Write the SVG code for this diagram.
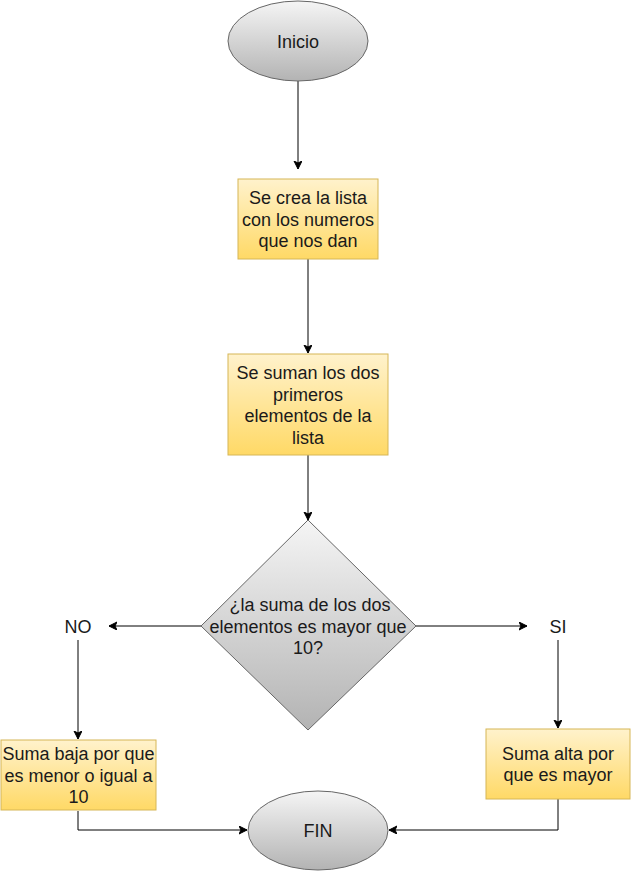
<svg xmlns="http://www.w3.org/2000/svg" width="631" height="871" viewBox="0 0 631 871">
  <defs>
    <linearGradient id="gGray" x1="0" y1="0" x2="0" y2="1">
      <stop offset="0" stop-color="#f5f5f5"/>
      <stop offset="1" stop-color="#b3b3b3"/>
    </linearGradient>
    <linearGradient id="gYel" x1="0" y1="0" x2="0" y2="1">
      <stop offset="0" stop-color="#fff2cc"/>
      <stop offset="1" stop-color="#ffd966"/>
    </linearGradient>
    <marker id="arr" markerUnits="userSpaceOnUse" markerWidth="10" markerHeight="10" refX="8" refY="4" orient="auto">
      <path d="M0,0 L8,4 L0,8 L2,4 Z" fill="#000" stroke="#000" stroke-width="1"/>
    </marker>
  </defs>
  <style>
    .gray { fill: url(#gGray); stroke: #666666; stroke-width: 1; }
    .yel { fill: url(#gYel); stroke: #d6b656; stroke-width: 1; }
    .t { font-family: "Liberation Sans", Arial, sans-serif; font-size: 18px; fill: #1a1a1a; text-anchor: middle; }
    .c { fill: none; stroke: #000; stroke-width: 1; marker-end: url(#arr); }
  </style>
  <rect width="631" height="871" fill="#ffffff"/>

  <g id="connectors">
    <path class="c" d="M298,81 L298,169"/>
    <path class="c" d="M308,259 L308,353"/>
    <path class="c" d="M308,455 L308,520"/>
    <path class="c" d="M201,626 L109,626"/>
    <path class="c" d="M416,626 L527,626"/>
    <path class="c" d="M78,640 L78,739"/>
    <path class="c" d="M558,640 L558,728"/>
    <path class="c" d="M78,811 L78,830 L247,830"/>
    <path class="c" d="M558,799 L558,830 L389,830"/>
  </g>

  <g id="inicio">
    <ellipse class="gray" cx="298" cy="41" rx="70" ry="40"/>
    <text class="t" x="298" y="47.5">Inicio</text>
  </g>

  <g id="crea-lista">
    <rect class="yel" x="238" y="179" width="140" height="80"/>
    <text class="t" x="308" y="204">Se crea la lista</text>
    <text class="t" x="308" y="225.5">con los numeros</text>
    <text class="t" x="308" y="247">que nos dan</text>
  </g>

  <g id="suman">
    <rect class="yel" x="228" y="354" width="160" height="101"/>
    <text class="t" x="308" y="379">Se suman los dos</text>
    <text class="t" x="308" y="400.5">primeros</text>
    <text class="t" x="308" y="422">elementos de la</text>
    <text class="t" x="308" y="443.5">lista</text>
  </g>

  <g id="decision">
    <path class="gray" d="M308,520 L416,626 L308,730 L201,626 Z"/>
    <text class="t" x="310" y="611">¿la suma de los dos</text>
    <text class="t" x="308" y="632.5">elementos es mayor que</text>
    <text class="t" x="308" y="654">10?</text>
  </g>

  <g id="no-label">
    <text class="t" x="78" y="632.5">NO</text>
  </g>

  <g id="si-label">
    <text class="t" x="558" y="632.5">SI</text>
  </g>

  <g id="suma-baja">
    <rect class="yel" x="1" y="740" width="155" height="70"/>
    <text class="t" x="78.5" y="760">Suma baja por que</text>
    <text class="t" x="78.5" y="781.5">es menor o igual a</text>
    <text class="t" x="78.5" y="803">10</text>
  </g>

  <g id="suma-alta">
    <rect class="yel" x="486" y="729" width="144" height="70"/>
    <text class="t" x="558" y="759.5">Suma alta por</text>
    <text class="t" x="558" y="781">que es mayor</text>
  </g>

  <g id="fin">
    <ellipse class="gray" cx="318" cy="830.5" rx="70" ry="39.5"/>
    <text class="t" x="318" y="837">FIN</text>
  </g>
</svg>
